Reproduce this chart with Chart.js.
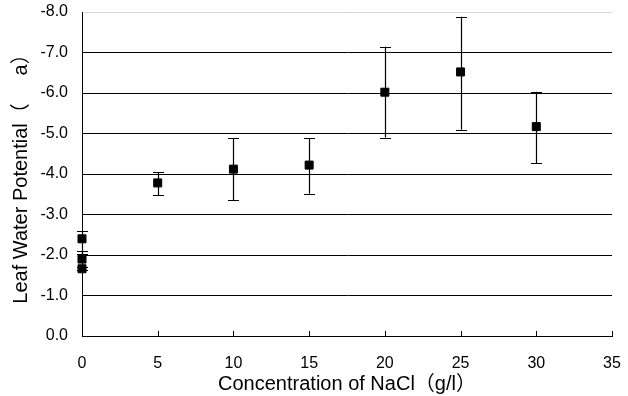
<!DOCTYPE html>
<html>
<head>
<meta charset="utf-8">
<script src="https://cdn.jsdelivr.net/npm/chart.js@4/dist/chart.umd.min.js"></script>
<style>
    html, body { margin: 0; padding: 0; background: #fff; }
    #wrap { width: 628px; height: 396px; }
</style>
</head>
<body>
<div id="wrap"><canvas id="chart"></canvas></div>
<script>
// values
const concentration = [0, 0, 0, 5, 10, 15, 20, 25, 30];
const potential = [-2.40, -1.90, -1.66, -3.78, -4.12, -4.22, -6.02, -6.52, -5.17];
const errTop = [-2.60, -2.10, -1.70, -4.05, -4.89, -4.89, -7.14, -7.88, -6.03];
const errBottom = [-2.02, -1.70, -1.62, -3.48, -3.36, -3.51, -4.90, -5.09, -4.26];
const xTicks = [0, 5, 10, 15, 20, 25, 30, 35];
const yTicks = [-8, -7, -6, -5, -4, -3, -2, -1, 0];

const fontFamily = "'Liberation Sans', Arial, 'Noto Sans CJK JP', sans-serif";

const errorBars = {
    id: "errorBars",
    beforeDatasetsDraw(chart) {
        const ctx = chart.ctx;
        const x = chart.scales.x;
        const y = chart.scales.y;
        ctx.save();
        ctx.strokeStyle = "#000";
        ctx.lineWidth = 1.2;
        for (let i = 0; i < concentration.length; i++) {
            const px = Math.round(x.getPixelForValue(concentration[i])) + 0.5;
            const top = y.getPixelForValue(errTop[i]);
            const bot = y.getPixelForValue(errBottom[i]);
            ctx.beginPath();
            ctx.moveTo(px, top);
            ctx.lineTo(px, bot);
            ctx.moveTo(px - 5.5, Math.round(top) + 0.5);
            ctx.lineTo(px + 5.5, Math.round(top) + 0.5);
            ctx.moveTo(px - 5.5, Math.round(bot) + 0.5);
            ctx.lineTo(px + 5.5, Math.round(bot) + 0.5);
            ctx.stroke();
        }
        ctx.restore();
    },
    afterDraw(chart) {
        // small inward ticks on the x axis
        const ctx = chart.ctx;
        const x = chart.scales.x;
        const b = chart.chartArea.bottom;
        ctx.save();
        ctx.strokeStyle = "#000";
        ctx.lineWidth = 1;
        ctx.beginPath();
        xTicks.forEach(v => {
            const px = Math.round(x.getPixelForValue(v)) + 0.5;
            ctx.moveTo(px, b);
            ctx.lineTo(px, b - 5);
        });
        ctx.stroke();
        ctx.restore();
    }
};

new Chart(document.getElementById("chart"), {
    type: "scatter",
    data: {
        datasets: [
            {
                data: concentration.map((c, i) => ({ x: c, y: potential[i] })),
                backgroundColor: "#000",
                borderColor: "#000",
                pointStyle: "rect",
                pointRadius: 5.66,
                pointHoverRadius: 5.66,
                clip: false
            }
        ]
    },
    options: {
        responsive: true,
        maintainAspectRatio: false,
        animation: false,
        events: [],
        layout: { padding: { top: 12, right: 16, left: 0, bottom: 0 } },
        plugins: {
            legend: { display: false },
            tooltip: { enabled: false }
        },
        scales: {
            x: {
                type: "linear",
                min: 0,
                max: 35,
                afterBuildTicks: s => { s.ticks = xTicks.map(v => ({ value: v })); },
                afterFit: s => {
                    s.height = 60;
                    s.paddingLeft = 0;
                    s.paddingRight = 0;
                },
                grid: { display: false, drawTicks: false },
                border: { display: true, color: "#000", width: 1 },
                ticks: {
                    padding: 18,
                    color: "#000",
                    font: { family: fontFamily, size: 16 }
                },
                title: {
                    display: true,
                    text: "Concentration of NaCl（g/l）",
                    color: "#000",
                    font: { family: fontFamily, size: 20 },
                    padding: { top: 0, bottom: 0 }
                }
            },
            y: {
                type: "linear",
                reverse: true,
                min: -8,
                max: 0,
                afterBuildTicks: s => { s.ticks = yTicks.map(v => ({ value: v })); },
                afterFit: s => {
                    s.width = 82;
                    s.paddingTop = 0;
                    s.paddingBottom = 0;
                },
                grid: {
                    drawTicks: false,
                    color: c => (c.tick && c.tick.value === -8 ? "#d8d8d8" : "#000"),
                    lineWidth: 1
                },
                border: { display: true, color: "#000", width: 1 },
                ticks: {
                    padding: 14,
                    color: "#000",
                    font: { family: fontFamily, size: 16 },
                    callback: v => v.toFixed(1)
                },
                title: {
                    display: true,
                    text: "Leaf Water Potential（     a）",
                    color: "#000",
                    font: { family: fontFamily, size: 20 },
                    padding: { top: 9, bottom: 0 }
                }
            }
        }
    },
    plugins: [errorBars]
});
</script>
</body>
</html>
